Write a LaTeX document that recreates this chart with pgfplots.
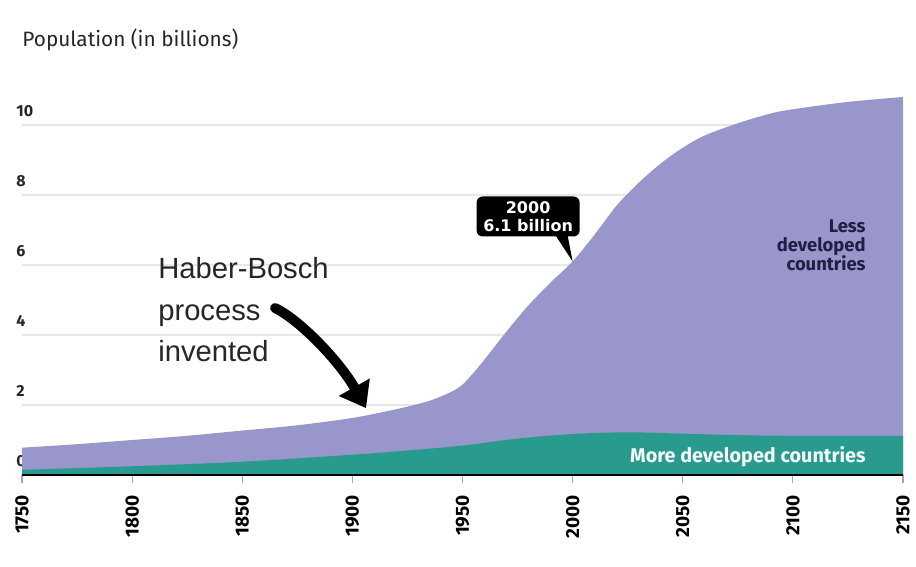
\documentclass[border=0pt]{standalone}
\usepackage{fontspec}
\setmainfont{Fira Sans}
\newfontfamily\arial{Liberation Sans}
\newfontfamily\dejavu{DejaVu Sans}
\usepackage{pgfplots}
\pgfplotsset{compat=1.18}
\usetikzlibrary{arrows.meta}
\definecolor{purp}{RGB}{152,150,202}
\definecolor{teal2}{RGB}{40,155,142}
\definecolor{navy}{RGB}{30,30,70}
\definecolor{gridc}{RGB}{232,232,232}
\begin{document}
\begin{tikzpicture}
\begin{axis}[
  scale only axis, width=440.5pt, height=196pt,
  xmin=1750, xmax=2150, ymin=0, ymax=11.2,
  axis line style={draw=none},
  xtick={1750,1800,...,2150},
  ytick={0,2,4,6,8,10},
  ymajorgrids, grid style={gridc, line width=0.9pt},
  xtick pos=bottom, tick align=outside,
  major tick length=4pt,
  x tick style={black!35, line width=0.6pt},
  y tick style={draw=none},
  xticklabel shift=2.5pt,
  x tick label style={rotate=90, anchor=east, font=\bfseries\fontsize{9.5}{9.5}\selectfont, /pgf/number format/1000 sep={}},
  y tick label style={anchor=south west, yshift=3pt, inner sep=1pt, font=\bfseries\fontsize{8}{8}\selectfont, text=black!85},
  /pgf/number format/assume math mode=true,
  clip=false,
]
\addplot[fill=purp, draw=none, smooth, tension=0.5] coordinates {
(1750,0.78)(1775,0.88)(1800,1.0)(1825,1.12)(1850,1.27)(1875,1.42)(1900,1.63)(1920,1.88)(1935,2.12)(1945,2.38)(1950,2.58)(1955,2.92)(1960,3.3)(1970,4.1)(1980,4.85)(1990,5.5)(2000,6.1)(2010,6.87)(2020,7.7)(2030,8.35)(2040,8.9)(2050,9.35)(2060,9.7)(2075,10.05)(2090,10.33)(2100,10.45)(2125,10.66)(2150,10.8)
} \closedcycle;
\addplot[fill=teal2, draw=none, smooth, tension=0.5] coordinates {
(1750,0.15)(1800,0.25)(1850,0.38)(1900,0.58)(1925,0.7)(1950,0.84)(1975,1.04)(2000,1.17)(2025,1.22)(2050,1.18)(2075,1.14)(2100,1.12)(2150,1.12)
} \closedcycle;
\draw[black, line width=1.2pt] (axis cs:1750,0) -- (axis cs:2150,0);
\coordinate (O) at (axis cs:1750,0);
\node[anchor=base west, inner sep=0, font=\fontsize{10.4}{12}\selectfont, text=black!85] at (axis cs:1750,12.23) {Population (in billions)};
\node[anchor=north west, inner sep=0, align=left, font=\arial\fontsize{14.6}{20.8}\selectfont, text=black!85] at (axis cs:1811.7,6.23) {Haber-Bosch\\process\\invented};
\draw[line width=5pt, line cap=round, -{Triangle[width=17pt,length=12pt]}] (axis cs:1864.9,4.77) .. controls (axis cs:1876.2,4.43) and (axis cs:1894.4,3.23) .. (axis cs:1906.2,1.91);
\coordinate (T) at (axis cs:2000,6.1);
\fill[black] (T) -- ([shift={(-8.5pt,13pt)}]T) -- ([shift={(-2.5pt,13pt)}]T) -- cycle;
\node[fill=black, rounded corners=3pt, text=white, align=center, minimum width=51.5pt, minimum height=20pt, inner sep=1pt, font=\dejavu\bfseries\fontsize{8}{9}\selectfont] at ([shift={(-22.25pt,22.5pt)}]T) {2000\\6.1 billion};
\node[anchor=north east, align=right, inner sep=0, font=\bfseries\fontsize{9.2}{9.6}\selectfont, text=navy] at (axis cs:2133.2,7.31) {Less\\developed\\countries};
\node[anchor=east, inner sep=0, font=\bfseries\fontsize{9.9}{9.9}\selectfont, text=white!95!teal2] at (axis cs:2133.2,0.51) {More developed countries};
\end{axis}
\pgfresetboundingbox
\path ([shift={(-11pt,-46pt)}]O) rectangle ([shift={(447pt,237.5pt)}]O);
\end{tikzpicture}
\end{document}
